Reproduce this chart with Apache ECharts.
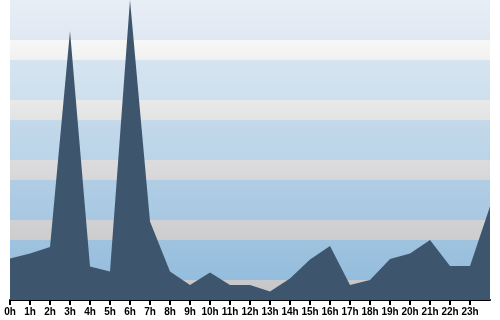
<!DOCTYPE html>
<html><head><meta charset="utf-8">
<script src="https://cdn.jsdelivr.net/npm/echarts@6/dist/echarts.min.js"></script>
<style>html,body{margin:0;padding:0;background:#fff}#c{width:500px;height:320px}</style>
</head><body><div id="c"></div>
<script>
const hours = ['0h','1h','2h','3h','4h','5h','6h','7h','8h','9h','10h','11h','12h','13h','14h','15h','16h','17h','18h','19h','20h','21h','22h','23h',''];
const values = [2.07,2.33,2.65,13.45,1.67,1.42,15,3.92,1.42,0.75,1.38,0.75,0.75,0.42,1.08,2.03,2.7,0.75,1.0,2.05,2.33,3.0,1.7,1.7,4.67];
const bandBlue = [['#e8eef6','#dfe8f2'],['#d6e4f0','#cde0ed'],['#c4d9ea','#bad4e8'],['#b0cde4','#a8c8e2'],['#9fc3df','#94bddd']];
const bandGrey = [['#f7f7f7','#f1f1f1'],['#e9e9ea','#e3e3e4'],['#dcdcde','#d7d7d9'],['#d1d1d3','#cdcdcf'],['#c9c9cb','#c6c6c8']];

function grad(c){return {type:'linear',x:0,y:0,x2:0,y2:1,colorStops:[{offset:0,color:c[0]},{offset:1,color:c[1]}]};}
const bands = [];
for (let i=0;i<5;i++){
  const top = 15 - i*3;
  bands.push([{yAxis: top, itemStyle:{color:grad(bandBlue[i])}},{yAxis: top-2}]);
  bands.push([{yAxis: top-2, itemStyle:{color:grad(bandGrey[i])}},{yAxis: top-3}]);
}
const chart = echarts.init(document.getElementById('c'));
chart.setOption({
  animation:false,
  grid:{left:10,right:10,top:0,bottom:20},
  xAxis:{type:'category',data:hours,boundaryGap:false,
    axisLine:{lineStyle:{color:'#000',width:2}},
    axisTick:{show:true,length:5,lineStyle:{color:'#000',width:2},interval:function(i){return i<24;}},
    axisLabel:{interval:0,fontSize:10,fontWeight:'bold',color:'#000',margin:7,fontFamily:'"Liberation Sans",Arial,sans-serif'},
    splitLine:{show:false}},
  yAxis:{type:'value',min:0,max:15,show:false,splitLine:{show:false}},
  series:[
    {type:'line',data:[],z:1,silent:true,markArea:{silent:true,data:bands}},
    {type:'line',data:values,z:2,symbol:'none',lineStyle:{width:0},areaStyle:{color:'#3e556e',opacity:1}}
  ]
});
</script></body></html>
